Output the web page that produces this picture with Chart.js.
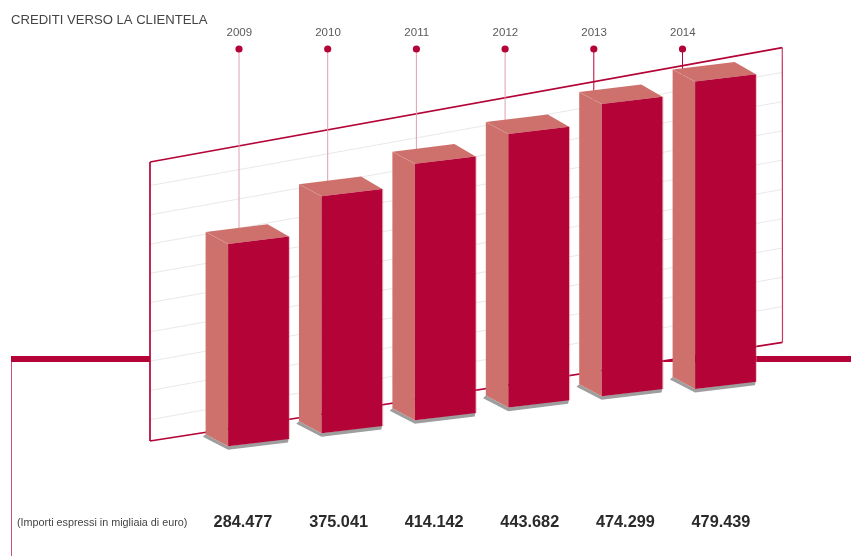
<!DOCTYPE html>
<html lang="it">
<head>
<meta charset="utf-8">
<title>Crediti verso la clientela</title>
<script src="https://cdn.jsdelivr.net/npm/chart.js@4"></script>
<style>
  html, body { margin: 0; padding: 0; background: #fff; }
  canvas { display: block; }
</style>
</head>
<body>
<canvas id="chart" width="851" height="556"></canvas>
<script>
// Loans to customers, thousands of euro, 2009-2014
const years = ['2009', '2010', '2011', '2012', '2013', '2014'];
const creditValues = [284477, 375041, 414142, 443682, 474299, 479439];
const barFloors = [-402600, -429800, -457000, -485200, -518100, -564600];
const chartTitle = 'CREDITI VERSO LA CLIENTELA';
const unitNote = '(Importi espressi in migliaia di euro)';

// Colours
const CRIMSON = '#B40336';
const SALMON = '#CE716C';
const SHADOW = '#9E9E9E';
const GRID = '#E9E9E9';
const PIN_PALE = '#E39DB1';
const FONT = '"Liberation Sans", Arial, sans-serif';

// Oblique projection of the bars
const FACE_SLOPE = 0.12;   // tilt of a front face
const PLANE_RISE = 0.2248; // climb of the bars from left to right
const DEPTH_LEFT = [-22.5, -12];
const DEPTH_RIGHT = [-21.3, -12.3];

// Backdrop panel drawn behind the bars
const PANEL = { tl: [150, 162], tr: [782.3, 47.7], br: [782.5, 342.3], bl: [150, 441] };
const GRID_SLOPE = 0.179;
const GRID_SHIFT = 10;

const euroFormat = v => Math.floor(v / 1000) + '.' + String(v % 1000).padStart(3, '0');

function poly(ctx, pts, fill) {
  ctx.beginPath();
  pts.forEach((p, i) => i ? ctx.lineTo(p[0], p[1]) : ctx.moveTo(p[0], p[1]));
  ctx.closePath();
  ctx.fillStyle = fill;
  ctx.fill();
}

function line(ctx, x1, y1, x2, y2, color, width) {
  ctx.beginPath();
  ctx.moveTo(x1, y1);
  ctx.lineTo(x2, y2);
  ctx.strokeStyle = color;
  ctx.lineWidth = width;
  ctx.stroke();
}

function text(ctx, str, x, y, font, color, align) {
  ctx.font = font;
  ctx.fillStyle = color;
  ctx.textAlign = align || 'left';
  ctx.textBaseline = 'middle';
  ctx.fillText(str, x, y);
}

const pseudo3d = {
  id: 'pseudo3d',

  // Rule, panel, grid, pins and all captions sit under the bars
  beforeDatasetsDraw(chart) {
    const { ctx, scales: { y } } = chart;
    const bars = chart.getDatasetMeta(0).data;
    const firstX = bars[0].x;
    ctx.save();

    // Heavy horizontal rule and its vertical drop
    line(ctx, 11, 359, 851, 359, CRIMSON, 6);
    line(ctx, 11.5, 362, 11.5, 556, '#C9557A', 1);

    // Panel
    const p = PANEL;
    poly(ctx, [p.tl, p.tr, p.br, p.bl], '#fff');
    y.ticks.forEach(t => {
      const left = y.getPixelForValue(t.value) + GRID_SHIFT;
      if (left > p.tl[1] + 5 && left < p.bl[1] - 5) {
        line(ctx, p.tl[0], left, p.tr[0], left - (p.tr[0] - p.tl[0]) * GRID_SLOPE, GRID, 1);
      }
    });
    line(ctx, p.tl[0], p.tl[1], p.tr[0], p.tr[1], CRIMSON, 1.7);
    line(ctx, p.tl[0], p.tl[1], p.bl[0], p.bl[1], CRIMSON, 1.7);
    line(ctx, p.bl[0], p.bl[1], p.br[0], p.br[1], CRIMSON, 1.7);
    line(ctx, p.tr[0], p.tr[1], p.br[0], p.br[1], '#C9385F', 1.2);

    // Year pins
    bars.forEach((el, i) => {
      const px = 239 + (el.x - firstX) * 0.9497;
      const topY = Math.min(el.y, el.base) - (el.x - firstX) * PLANE_RISE;
      line(ctx, px, 49, px, topY, i >= 4 ? CRIMSON : PIN_PALE, 1);
      ctx.beginPath();
      ctx.arc(px, 49, 3.6, 0, Math.PI * 2);
      ctx.fillStyle = CRIMSON;
      ctx.fill();
      text(ctx, years[i], px + 0.3, 32.5, '11.5px ' + FONT, '#5a5a5a', 'center');

      const vx = 243 + (el.x - firstX) * 1.0235;
      text(ctx, euroFormat(creditValues[i]), vx, 522.5, 'bold 16.3px ' + FONT, '#2a2a2a', 'center');
    });

    text(ctx, chartTitle, 11, 20, '13.1px ' + FONT, '#444', 'left');
    text(ctx, unitNote, 17, 523, '10.8px ' + FONT, '#444', 'left');
    ctx.restore();
  },

  // Each bar is the library's own rectangle under a shear, with depth faces added
  beforeDatasetDraw(chart, args) {
    const { ctx } = chart;
    const bars = args.meta.data;
    const firstX = bars[0].x;
    bars.forEach(el => {
      const rise = (el.x - firstX) * PLANE_RISE;
      const half = el.width / 2;
      const topPx = Math.min(el.y, el.base);
      const basePx = Math.max(el.y, el.base);
      const at = (x, y) => [x, y - rise - FACE_SLOPE * (x - el.x)];
      const tl = at(el.x - half, topPx);
      const tr = at(el.x + half, topPx);
      const bl = at(el.x - half, basePx);
      const br = at(el.x + half, basePx);
      const back = (pt, d) => [pt[0] + d[0], pt[1] + d[1]];
      const btl = back(tl, DEPTH_LEFT);
      const btr = back(tr, DEPTH_RIGHT);
      const bbl = back(bl, DEPTH_LEFT);

      // Ground shadow
      poly(ctx, [
        [bbl[0] - 2.7, bbl[1] + 2.6],
        [bl[0], bl[1] + 3.6],
        [br[0] - 1, br[1] + 3.6],
        [br[0], br[1] - 1],
        bl,
        bbl
      ], SHADOW);

      // Side and top faces
      poly(ctx, [btl, tl, bl, bbl], SALMON);
      poly(ctx, [btl, btr, tr, tl], SALMON);
      line(ctx, btl[0], btl[1], tl[0], tl[1], 'rgba(255,255,255,0.12)', 0.6);
      line(ctx, tr[0] + 0.5, tr[1], br[0] + 0.5, br[1], 'rgba(225,130,150,0.5)', 1);

      // Front face
      ctx.save();
      ctx.transform(1, -FACE_SLOPE, 0, 1, 0, FACE_SLOPE * el.x - rise);
      el.draw(ctx);
      ctx.restore();
    });
    return false;
  }
};

new Chart(document.getElementById('chart'), {
  type: 'bar',
  data: {
    labels: years,
    datasets: [{
      label: 'Crediti verso la clientela',
      data: creditValues.map((v, i) => [barFloors[i], v]),
      backgroundColor: CRIMSON,
      borderWidth: 0,
      barPercentage: 60.8 / 93.4,
      categoryPercentage: 1
    }]
  },
  options: {
    responsive: false,
    animation: false,
    layout: { padding: { left: 211.8, right: 78.8, top: 0, bottom: 0 } },
    plugins: { legend: { display: false }, tooltip: { enabled: false }, title: { display: false } },
    scales: {
      x: { type: 'category', display: false, offset: true },
      y: {
        type: 'linear',
        display: false,
        min: -787700,
        max: 1100200,
        ticks: { stepSize: 100000, autoSkip: false }
      }
    }
  },
  plugins: [pseudo3d]
});
</script>
</body>
</html>
